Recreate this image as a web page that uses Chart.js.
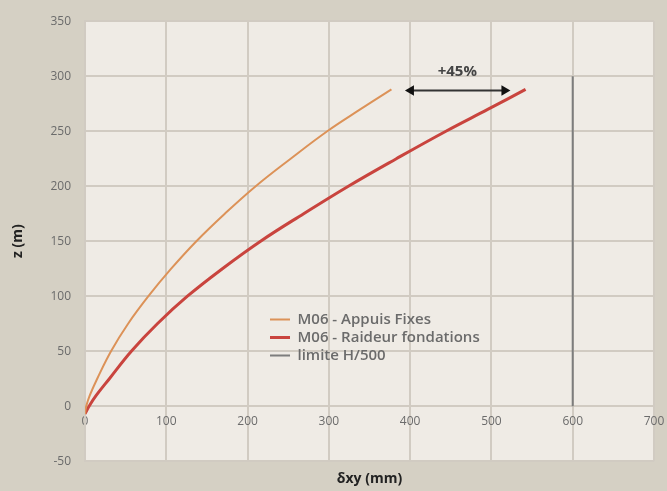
<!DOCTYPE html>
<html lang="fr">
<head>
<meta charset="utf-8">
<title>z (m) - δxy (mm)</title>
<script src="https://cdn.jsdelivr.net/npm/chart.js@4.4.1/dist/chart.umd.min.js"></script>
<style>
  html, body { margin: 0; padding: 0; background: #d5d0c4; }
  #cadre { width: 667px; height: 491px; position: relative; }
</style>
</head>
<body>
<div id="cadre"><canvas id="graphe"></canvas></div>
<script>
// Déplacement horizontal δxy (mm) en fonction de la hauteur z (m)
const zAppuis   = [-7, 0, 10, 25, 50, 75, 100, 125, 150, 175, 200, 225, 250, 270, 288];
const dxyAppuis = [0, 1.5, 6, 15, 32, 53, 78, 106, 137, 172, 210, 253, 298, 339, 377];

const zRaideur   = [-7, 0, 10, 25, 50, 75, 100, 125, 150, 175, 200, 225, 250, 270, 288];
const dxyRaideur = [0, 5, 14, 30, 57, 89, 126, 169, 216, 269, 324, 383, 444, 496, 542];

// limite H/500 (H = 300 m -> 600 mm)
const zLimite   = [0, 300];
const dxyLimite = [600, 600];

// flèche +45% entre les deux courbes en tête
const zFleche   = [287, 287];
const dxyFleche = [401, 516];
const texteFleche = '+45%';
const posTexte = [458, 304];

const ticksX = [0, 100, 200, 300, 400, 500, 600, 700];
const ticksY = [-50, 0, 50, 100, 150, 200, 250, 300, 350];

const nomsSeries = ['M06 - Appuis Fixes', 'M06 - Raideur fondations', 'limite H/500'];

function enPoints(xs, zs) {
    return xs.map((v, i) => ({ x: v, y: zs[i] }));
}

const couleurGrille = '#d1cbc2';
const couleurTexte = '#6b6b6b';

// fond de la zone de tracé
const fondZone = {
    id: 'fondZone',
    beforeDraw(chart) {
        const { ctx, chartArea } = chart;
        ctx.save();
        ctx.fillStyle = '#efebe5';
        ctx.fillRect(chartArea.left, chartArea.top, chartArea.right - chartArea.left, chartArea.bottom - chartArea.top);
        ctx.restore();
    }
};

// on place la légende à l'intérieur du graphe
const legendeInterne = {
    id: 'legendeInterne',
    afterLayout(chart) {
        const lg = chart.legend;
        if (!lg) return;
        lg.left = 267;
        lg.top = 309;
        lg.right = lg.left + lg.width;
        lg.bottom = lg.top + lg.height;
    }
};

// texte au-dessus de la flèche
const texteAnnotation = {
    id: 'texteAnnotation',
    afterDatasetsDraw(chart) {
        const { ctx, scales } = chart;
        ctx.save();
        ctx.font = 'bold 15px "Open Sans"';
        ctx.fillStyle = '#444';
        ctx.textAlign = 'center';
        ctx.textBaseline = 'middle';
        ctx.fillText(texteFleche, scales.x.getPixelForValue(posTexte[0]), scales.y.getPixelForValue(posTexte[1]));
        ctx.restore();
    }
};

new Chart(document.getElementById('graphe'), {
    type: 'scatter',
    data: {
        datasets: [
            {
                label: nomsSeries[0],
                data: enPoints(dxyAppuis, zAppuis),
                showLine: true,
                borderColor: '#dc9258',
                backgroundColor: '#dc9258',
                borderWidth: 2,
                pointRadius: 0,
                tension: 0.4
            },
            {
                label: nomsSeries[1],
                data: enPoints(dxyRaideur, zRaideur),
                showLine: true,
                borderColor: '#c9443e',
                backgroundColor: '#c9443e',
                borderWidth: 3,
                pointRadius: 0,
                tension: 0.4
            },
            {
                label: nomsSeries[2],
                data: enPoints(dxyLimite, zLimite),
                showLine: true,
                borderColor: '#7d7d7d',
                backgroundColor: '#7d7d7d',
                borderWidth: 2,
                pointRadius: 0
            },
            {
                label: 'fleche',
                data: enPoints(dxyFleche, zFleche),
                showLine: true,
                borderColor: '#333',
                borderWidth: 2,
                pointStyle: 'triangle',
                pointRadius: 6,
                pointRotation: [-90, 90],
                pointBackgroundColor: '#111',
                pointBorderColor: '#111',
                pointBorderWidth: 0
            }
        ]
    },
    options: {
        responsive: true,
        maintainAspectRatio: false,
        animation: false,
        layout: { padding: { top: 19, right: 13, bottom: 0, left: 0 } },
        plugins: {
            legend: {
                position: 'chartArea',
                align: 'start',
                labels: {
                    usePointStyle: true,
                    pointStyle: 'line',
                    pointStyleWidth: 20,
                    padding: 3,
                    color: couleurTexte,
                    font: { family: '"Open Sans"', size: 15, weight: '600' },
                    filter: item => item.datasetIndex < 3
                }
            },
            tooltip: { enabled: false }
        },
        scales: {
            x: {
                type: 'linear',
                position: { y: 0 },
                min: 0,
                max: 700,
                afterBuildTicks: scale => { scale.ticks = ticksX.map(v => ({ value: v })); },
                afterFit: scale => { scale.paddingLeft = 0; scale.paddingRight = 0; },
                grid: { color: couleurGrille, lineWidth: 2, drawTicks: false },
                border: { color: couleurGrille, width: 2 },
                ticks: { padding: 8, color: couleurTexte, font: { family: '"Open Sans"', size: 12 } }
            },
            x2: {
                type: 'linear',
                axis: 'x',
                position: 'bottom',
                grid: { display: false, drawTicks: false },
                border: { display: false },
                ticks: { display: false },
                title: {
                    display: true,
                    text: 'δxy (mm)',
                    color: '#222',
                    font: { family: '"Open Sans"', size: 14, weight: 'bold' },
                    padding: { top: 9, bottom: 4 }
                }
            },
            y: {
                type: 'linear',
                min: -50,
                max: 350,
                afterBuildTicks: scale => { scale.ticks = ticksY.map(v => ({ value: v })); },
                afterFit: scale => { scale.width = 85; },
                grid: { color: couleurGrille, lineWidth: 2, drawTicks: false },
                border: { color: couleurGrille, width: 2 },
                ticks: { padding: 14, color: couleurTexte, font: { family: '"Open Sans"', size: 12 } },
                title: {
                    display: true,
                    text: 'z (m)',
                    color: '#222',
                    font: { family: '"Open Sans"', size: 14, weight: 'bold' },
                    padding: { top: 10, bottom: 0 }
                }
            }
        }
    },
    plugins: [fondZone, legendeInterne, texteAnnotation]
});
</script>
</body>
</html>
